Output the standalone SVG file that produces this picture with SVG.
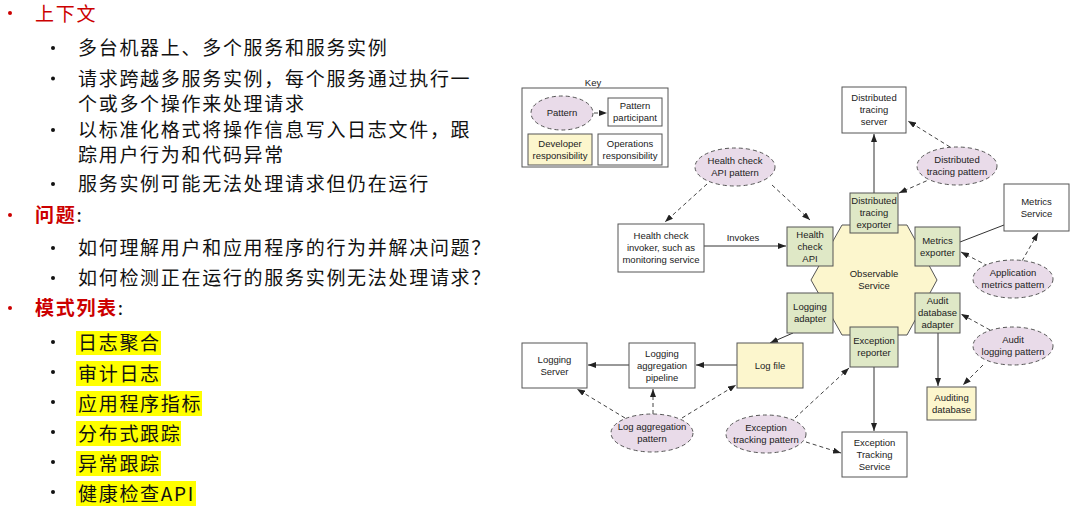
<svg xmlns="http://www.w3.org/2000/svg" width="1078" height="516" viewBox="0 0 1078 516">
<defs>
<style>
.cn{font-family:"Noto Sans CJK SC",sans-serif;font-size:19px;letter-spacing:1.7px;fill:#111}
.red{fill:#cc0000}
.b{font-weight:bold}
.hl{fill:#ffff00}
.t{font-family:"Liberation Sans",Arial,sans-serif;font-size:9.5px;fill:#222;text-anchor:middle}
.box{fill:#ffffff;stroke:#555;stroke-width:1}
.grn{fill:#dfe8c6;stroke:#555;stroke-width:1}
.yel{fill:#fcf6cd;stroke:#555;stroke-width:1}
.pat{fill:#e9dbe9;stroke:#555;stroke-width:1;stroke-dasharray:4 3}
.c{fill:none;stroke:#333;stroke-width:1;marker-end:url(#ah)}
.cn2{fill:none;stroke:#333;stroke-width:1}
.d{fill:none;stroke:#444;stroke-width:1;stroke-dasharray:4 3;marker-end:url(#ah)}
</style>
<marker id="ah" markerWidth="8" markerHeight="6" refX="8" refY="3" orient="auto" markerUnits="userSpaceOnUse">
<path d="M0,0 L8,3 L0,6 z" fill="#222"/>
</marker>
</defs>
<rect width="1078" height="516" fill="#ffffff"/>

<g id="left-text">
<circle cx="10" cy="13" r="2" fill="#cc0000"/>
<text class="cn red" x="35" y="21">上下文</text>
<circle cx="53" cy="48" r="2" fill="#111"/>
<text class="cn" x="78" y="55">多台机器上、多个服务和服务实例</text>
<circle cx="53" cy="78.5" r="2" fill="#111"/>
<text class="cn" x="78" y="85.5">请求跨越多服务实例，每个服务通过执行一</text>
<text class="cn" x="78" y="110.5">个或多个操作来处理请求</text>
<circle cx="53" cy="130" r="2" fill="#111"/>
<text class="cn" x="78" y="137">以标准化格式将操作信息写入日志文件，跟</text>
<text class="cn" x="78" y="162">踪用户行为和代码异常</text>
<circle cx="53" cy="184" r="2" fill="#111"/>
<text class="cn" x="78" y="191">服务实例可能无法处理请求但仍在运行</text>
<circle cx="10" cy="215" r="2" fill="#cc0000"/>
<text class="cn" x="35" y="222"><tspan class="red b">问题</tspan>:</text>
<circle cx="53" cy="248" r="2" fill="#111"/>
<text class="cn" x="78" y="255">如何理解用户和应用程序的行为并解决问题？</text>
<circle cx="53" cy="278" r="2" fill="#111"/>
<text class="cn" x="78" y="285">如何检测正在运行的服务实例无法处理请求？</text>
<circle cx="10" cy="308" r="2" fill="#cc0000"/>
<text class="cn" x="35" y="315"><tspan class="red b">模式列表</tspan>:</text>
<rect class="hl" x="76" y="331" width="85" height="24"/>
<rect class="hl" x="76" y="361" width="85" height="25"/>
<rect class="hl" x="76" y="391" width="126" height="25"/>
<rect class="hl" x="76" y="421" width="105" height="25"/>
<rect class="hl" x="76" y="451" width="85" height="25"/>
<rect class="hl" x="76" y="481" width="120" height="25"/>
<circle cx="53" cy="342" r="2" fill="#111"/>
<text class="cn" x="78" y="350">日志聚合</text>
<circle cx="53" cy="372" r="2" fill="#111"/>
<text class="cn" x="78" y="380.5">审计日志</text>
<circle cx="53" cy="402" r="2" fill="#111"/>
<text class="cn" x="78" y="410.5">应用程序指标</text>
<circle cx="53" cy="432" r="2" fill="#111"/>
<text class="cn" x="78" y="440.5">分布式跟踪</text>
<circle cx="53" cy="462" r="2" fill="#111"/>
<text class="cn" x="78" y="470.5">异常跟踪</text>
<circle cx="53" cy="492" r="2" fill="#111"/>
<text class="cn" x="78" y="500.5">健康检查API</text>
</g>

<g id="key">
<text class="t" x="593" y="86">Key</text>
<rect x="522" y="88" width="146" height="79" fill="#fff" stroke="#555"/>
<ellipse class="pat" cx="562" cy="113" rx="31" ry="17"/>
<text class="t" x="562" y="116.4">Pattern</text>
<rect class="box" x="608" y="98" width="54" height="28"/>
<text class="t" x="635" y="109.4">Pattern</text>
<text class="t" x="635" y="121.4">participant</text>
<path class="d" d="M594,113 L607,113"/>
<rect class="yel" x="528" y="134" width="64" height="31"/>
<text class="t" x="560" y="146.9">Developer</text>
<text class="t" x="560" y="158.9">responsibility</text>
<rect class="box" x="598" y="134" width="64" height="31"/>
<text class="t" x="630" y="146.9">Operations</text>
<text class="t" x="630" y="158.9">responsibility</text>
</g>

<g id="connectors">
<path class="c" d="M704,246 L786,246"/>
<text class="t" x="743" y="241">Invokes</text>
<path class="d" d="M707,184 L665,222"/>
<path class="d" d="M772,185 L810,220"/>
<path class="c" d="M874,193 L874,134"/>
<path class="d" d="M950,147 L908,121"/>
<path class="d" d="M933,178 L899,193"/>
<path class="cn2" d="M960,242 L1004,225"/>
<path class="d" d="M988,266 L961,252"/>
<path class="d" d="M1022,261 L1038,233"/>
<path class="c" d="M793,333 L770,343"/>
<path class="c" d="M737,365 L696,365"/>
<path class="c" d="M629,365 L588,365"/>
<path class="d" d="M625,418 L577,389"/>
<path class="d" d="M653,414 L653,389"/>
<path class="d" d="M682,418 L736,385"/>
<path class="c" d="M874,367 L874,431"/>
<path class="d" d="M795,418 L849,368"/>
<path class="d" d="M806,442 L841,453"/>
<path class="c" d="M938,333 L938,386"/>
<path class="d" d="M990,330 L961,314"/>
<path class="d" d="M983,365 L963,385"/>
</g>

<g id="observable-service">
<polygon points="842,225 907,225 937,280 907,335 842,335 811,280" fill="#fcf6cd" stroke="#555"/>
<text class="t" x="874" y="277.4">Observable</text>
<text class="t" x="874" y="289.4">Service</text>
</g>

<g id="distributed-tracing-server">
<rect class="box" x="842" y="87" width="64" height="46"/>
<text class="t" x="874" y="101.4">Distributed</text>
<text class="t" x="874" y="113.4">tracing</text>
<text class="t" x="874" y="125.4">server</text>
</g>
<g id="distributed-tracing-exporter">
<rect class="grn" x="850" y="193" width="48" height="40"/>
<text class="t" x="874" y="204.4">Distributed</text>
<text class="t" x="874" y="216.4">tracing</text>
<text class="t" x="874" y="228.4">exporter</text>
</g>
<g id="health-check-api">
<rect class="grn" x="787" y="227" width="46" height="39"/>
<text class="t" x="810" y="237.9">Health</text>
<text class="t" x="810" y="249.9">check</text>
<text class="t" x="810" y="261.9">API</text>
</g>
<g id="metrics-exporter">
<rect class="grn" x="915" y="227" width="45" height="39"/>
<text class="t" x="937.5" y="243.9">Metrics</text>
<text class="t" x="937.5" y="255.9">exporter</text>
</g>
<g id="logging-adapter">
<rect class="grn" x="787" y="293" width="46" height="40"/>
<text class="t" x="810" y="310.4">Logging</text>
<text class="t" x="810" y="322.4">adapter</text>
</g>
<g id="audit-database-adapter">
<rect class="grn" x="915" y="293" width="45" height="40"/>
<text class="t" x="937.5" y="304.4">Audit</text>
<text class="t" x="937.5" y="316.4">database</text>
<text class="t" x="937.5" y="328.4">adapter</text>
</g>
<g id="exception-reporter">
<rect class="grn" x="850" y="327" width="48" height="40"/>
<text class="t" x="874" y="344.4">Exception</text>
<text class="t" x="874" y="356.4">reporter</text>
</g>
<g id="log-file">
<rect class="yel" x="737" y="343" width="66" height="45"/>
<text class="t" x="770" y="368.9">Log file</text>
</g>
<g id="logging-aggregation-pipeline">
<rect class="box" x="629" y="343" width="66" height="45"/>
<text class="t" x="662" y="356.9">Logging</text>
<text class="t" x="662" y="368.9">aggregation</text>
<text class="t" x="662" y="380.9">pipeline</text>
</g>
<g id="logging-server">
<rect class="box" x="522" y="343" width="65" height="45"/>
<text class="t" x="554.5" y="362.9">Logging</text>
<text class="t" x="554.5" y="374.9">Server</text>
</g>
<g id="auditing-database">
<rect class="yel" x="927" y="387" width="49" height="33"/>
<text class="t" x="951.5" y="400.9">Auditing</text>
<text class="t" x="951.5" y="412.9">database</text>
</g>
<g id="exception-tracking-service">
<rect class="box" x="842" y="432" width="65" height="45"/>
<text class="t" x="874.5" y="445.9">Exception</text>
<text class="t" x="874.5" y="457.9">Tracking</text>
<text class="t" x="874.5" y="469.9">Service</text>
</g>
<g id="metrics-service">
<rect class="box" x="1004" y="184" width="65" height="47"/>
<text class="t" x="1036.5" y="204.9">Metrics</text>
<text class="t" x="1036.5" y="216.9">Service</text>
</g>
<g id="health-check-invoker">
<rect class="box" x="618" y="224" width="86" height="48"/>
<text class="t" x="661" y="239.4">Health check</text>
<text class="t" x="661" y="251.4">invoker, such as</text>
<text class="t" x="661" y="263.4">monitoring service</text>
</g>

<g id="health-check-api-pattern">
<ellipse class="pat" cx="735" cy="167" rx="40" ry="19"/>
<text class="t" x="735" y="164.4">Health check</text>
<text class="t" x="735" y="176.4">API pattern</text>
</g>
<g id="distributed-tracing-pattern">
<ellipse class="pat" cx="957" cy="166" rx="40" ry="19"/>
<text class="t" x="957" y="163.4">Distributed</text>
<text class="t" x="957" y="175.4">tracing pattern</text>
</g>
<g id="application-metrics-pattern">
<ellipse class="pat" cx="1013" cy="279" rx="40" ry="19"/>
<text class="t" x="1013" y="276.4">Application</text>
<text class="t" x="1013" y="288.4">metrics pattern</text>
</g>
<g id="audit-logging-pattern">
<ellipse class="pat" cx="1013" cy="346" rx="40" ry="19"/>
<text class="t" x="1013" y="343.4">Audit</text>
<text class="t" x="1013" y="355.4">logging pattern</text>
</g>
<g id="exception-tracking-pattern">
<ellipse class="pat" cx="766" cy="434" rx="40" ry="19"/>
<text class="t" x="766" y="431.4">Exception</text>
<text class="t" x="766" y="443.4">tracking pattern</text>
</g>
<g id="log-aggregation-pattern">
<ellipse class="pat" cx="652" cy="433" rx="41" ry="19"/>
<text class="t" x="652" y="430.4">Log aggregation</text>
<text class="t" x="652" y="442.4">pattern</text>
</g>
</svg>
